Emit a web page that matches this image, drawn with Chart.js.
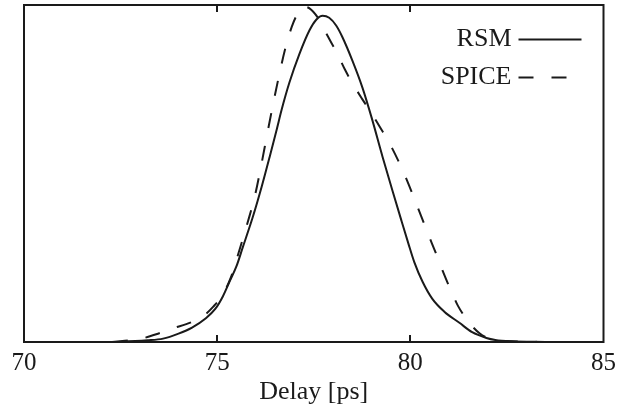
<!DOCTYPE html>
<html><head><meta charset="utf-8">
<script src="https://cdn.jsdelivr.net/npm/chart.js@4"></script>
<style>html,body{margin:0;padding:0;background:#fff}#wrap{width:625px;height:405px}</style>
</head><body><div id="wrap"><canvas id="c" width="625" height="405"></canvas></div>
<script>
const xTicks = [70, 75, 80, 85];
const xTitle = 'Delay [ps]';
const seriesNames = ['RSM', 'SPICE'];

const rsmDelay = [71.6, 72.5, 73.2, 73.6, 74.0, 74.35, 74.7, 74.95, 75.15, 75.32, 75.5, 75.66, 75.92, 76.15, 76.36, 76.54, 76.67, 76.87, 77.13, 77.39, 77.57, 77.73, 77.9, 78.08, 78.24, 78.5, 78.76, 79.0, 79.28, 79.54, 79.77, 79.95, 80.1, 80.32, 80.57, 80.88, 81.27, 81.6, 81.97, 82.2, 82.6, 83.5];
const rsmDensity = [0, 0.001, 0.005, 0.01, 0.025, 0.043, 0.07, 0.098, 0.136, 0.179, 0.225, 0.28, 0.37, 0.46, 0.55, 0.63, 0.69, 0.77, 0.855, 0.925, 0.957, 0.968, 0.962, 0.939, 0.905, 0.835, 0.755, 0.665, 0.55, 0.448, 0.36, 0.292, 0.238, 0.178, 0.128, 0.09, 0.057, 0.029, 0.012, 0.006, 0.002, 0];

const spiceDelay = [72.3, 72.55, 73.0, 73.5, 73.84, 74.36, 74.67, 74.9, 75.14, 75.35, 75.53, 75.7, 75.84, 75.97, 76.15, 76.3, 76.49, 76.62, 76.75, 76.93, 77.06, 77.22, 77.39, 77.65, 77.85, 78.09, 78.3, 78.5, 78.76, 78.99, 79.2, 79.46, 79.85, 80.19, 80.55, 80.71, 80.84, 81.07, 81.23, 81.5, 81.79, 82.05, 82.4, 83.6];
const spiceDensity = [0, 0.003, 0.009, 0.026, 0.04, 0.06, 0.08, 0.105, 0.14, 0.19, 0.255, 0.32, 0.375, 0.43, 0.53, 0.62, 0.73, 0.80, 0.865, 0.935, 0.97, 0.995, 0.99, 0.955, 0.91, 0.86, 0.81, 0.768, 0.72, 0.68, 0.64, 0.59, 0.497, 0.40, 0.295, 0.25, 0.21, 0.148, 0.108, 0.061, 0.026, 0.01, 0.003, 0];

const toPts = (xs, ys) => xs.map((x, i) => ({x: x, y: ys[i]}));
const INK = '#1a1a1a';
const SERIF = '"Liberation Serif", "DejaVu Serif", serif';

const framePlugin = {
  id: 'frame',
  afterDatasetsDraw(chart) {
    const {ctx, chartArea: a} = chart;
    ctx.save();
    ctx.strokeStyle = INK;
    ctx.lineWidth = 2;
    ctx.strokeRect(a.left, a.top, a.right - a.left, a.bottom - a.top);
    ctx.restore();
  }
};

const insideLegend = {
  id: 'insideLegend',
  afterDraw(chart) {
    const {ctx, chartArea: a} = chart;
    ctx.save();
    ctx.font = '26px ' + SERIF;
    ctx.textAlign = 'right';
    ctx.textBaseline = 'middle';
    chart.data.datasets.forEach((ds, i) => {
      const y = a.top + 34.5 + i * 38;
      const lineRight = a.right - 22;
      const lineLeft = lineRight - 63;
      ctx.fillStyle = INK;
      ctx.fillText(ds.label, lineLeft - 7, y);
      ctx.strokeStyle = ds.borderColor;
      ctx.lineWidth = ds.borderWidth;
      ctx.setLineDash(ds.borderDash || []);
      ctx.beginPath();
      ctx.moveTo(lineLeft, y);
      ctx.lineTo(lineRight, y);
      ctx.stroke();
    });
    ctx.restore();
  }
};

new Chart(document.getElementById('c'), {
  type: 'line',
  data: {
    datasets: [
      { label: seriesNames[0], data: toPts(rsmDelay, rsmDensity), borderColor: INK, borderWidth: 2, pointRadius: 0, tension: 0.4, cubicInterpolationMode: 'monotone', fill: false },
      { label: seriesNames[1], data: toPts(spiceDelay, spiceDensity), borderColor: INK, borderWidth: 2, borderDash: [15, 18], pointRadius: 0, tension: 0.4, cubicInterpolationMode: 'monotone', fill: false }
    ]
  },
  options: {
    responsive: false,
    animation: false,
    devicePixelRatio: 1,
    layout: { padding: { left: 24, right: 21, top: 5, bottom: 0 } },
    plugins: { legend: { display: false }, tooltip: { enabled: false } },
    scales: {
      x: {
        type: 'linear', min: 70, max: 85,
        afterBuildTicks: s => { s.ticks = xTicks.map(v => ({ value: v })); },
        ticks: { color: INK, padding: 9, font: { family: SERIF, size: 25, lineHeight: 1 }, maxRotation: 0 },
        grid: {
          drawTicks: false,
          drawOnChartArea: true,
          lineWidth: 2,
          color: c => (c.tick && (c.tick.value === xTicks[0] || c.tick.value === xTicks[xTicks.length - 1])) ? 'rgba(0,0,0,0)' : INK
        },
        border: {
          display: false,
          dash: c => { const a = c.chart.chartArea; const h = a ? a.bottom - a.top : 346; return [7, h - 14, 7, 1000]; }
        },
        title: { display: true, text: xTitle, color: INK, font: { family: SERIF, size: 26, lineHeight: 1 }, padding: { top: -6, bottom: 0 } }
      },
      y: { type: 'linear', min: 0, max: 1, display: false }
    }
  },
  plugins: [framePlugin, insideLegend]
});
</script>
</body></html>
